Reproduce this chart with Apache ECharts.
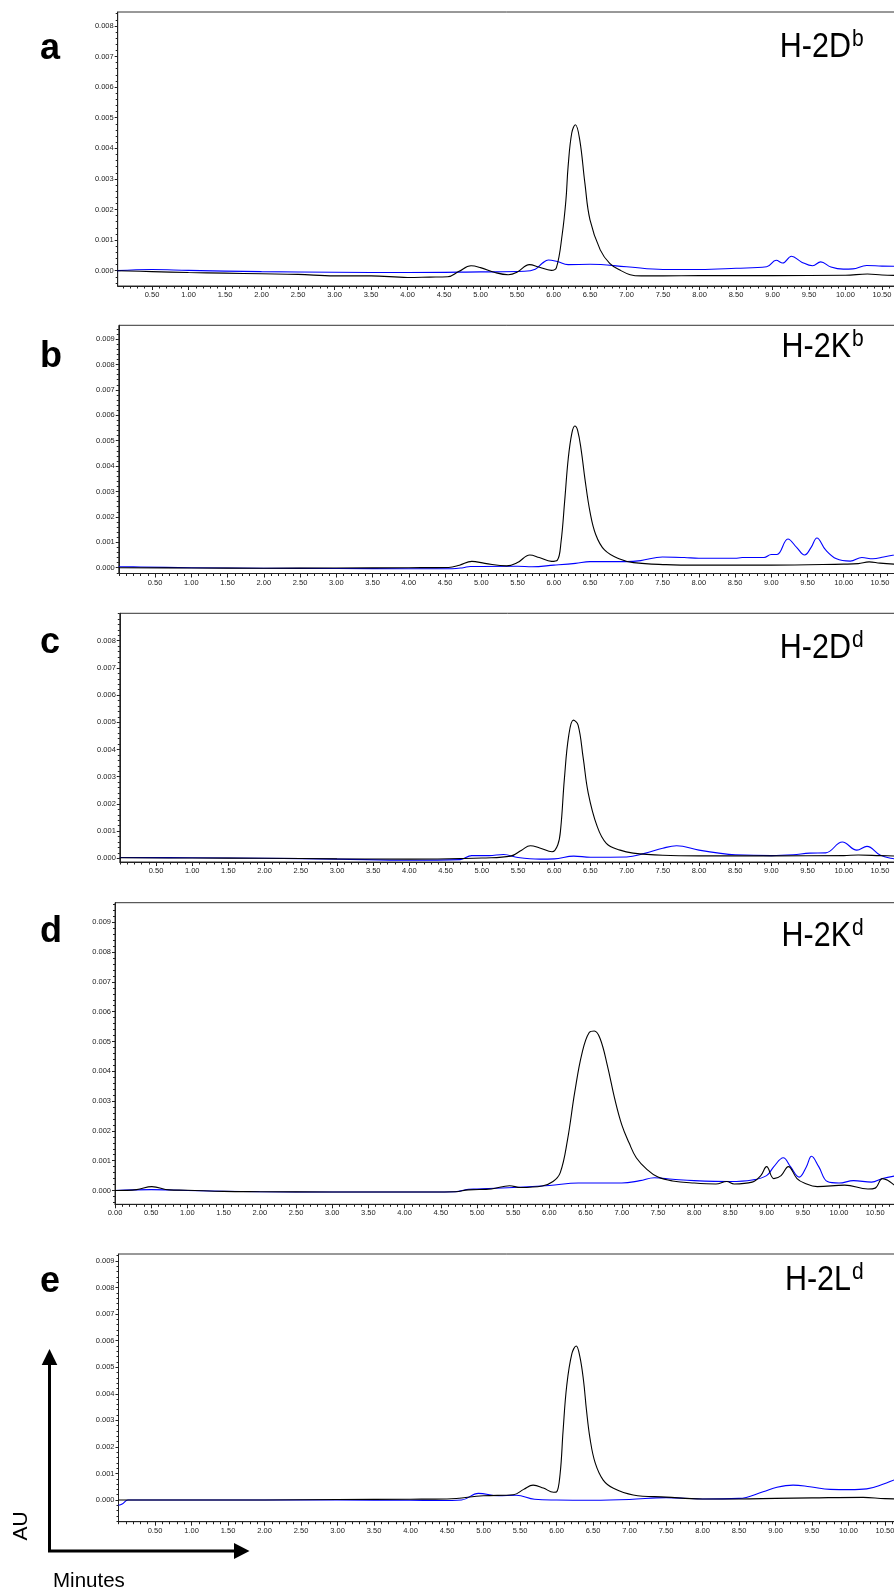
<!DOCTYPE html>
<html><head><meta charset="utf-8">
<script src="https://cdn.jsdelivr.net/npm/echarts@6/dist/echarts.min.js"></script>
<style>html,body{margin:0;padding:0;background:#fff}#c{width:894px;height:1591px}</style>
</head><body><div id="c"></div>
<script>
// ---- Data: [minutes, AU] ----
const aBlack = [[0,0],[0.5,-0.00003],[1,-0.00006],[1.5,-0.00008],[2,-0.0001],[2.5,-0.00012],[3,-0.00017],[3.5,-0.00017],[4,-0.00022],[4.3,-0.00021],[4.55,-0.0002],[4.7,-0.00003],[4.87,0.00016],[5.0,0.0001],[5.2,-0.00006],[5.38,-0.00013],[5.5,-0.00005],[5.67,0.0002],[5.8,0.00012],[5.97,0.00001],[6.04,0.0001],[6.12,0.0012],[6.17,0.0023],[6.2,0.0034],[6.25,0.0045],[6.3,0.00477],[6.36,0.00427],[6.43,0.00286],[6.5,0.00166],[6.64,0.00068],[6.77,0.00024],[6.91,0.00002],[7.05,-0.00013],[7.2,-0.00017],[7.5,-0.00017],[8,-0.00016],[9,-0.00016],[10,-0.00015],[10.3,-0.00011],[10.5,-0.00014],[10.8,-0.00016]];
const aBlue = [[0,0],[0.5,0.00004],[1,0.00001],[2,-0.00003],[3,-0.00005],[4,-0.00006],[5,-0.00004],[5.6,-0.00002],[5.75,0.00005],[5.85,0.00025],[5.93,0.00035],[6.05,0.0003],[6.2,0.0002],[6.5,0.00021],[7.0,0.00013],[7.5,0.00004],[8,0.00004],[8.5,0.00008],[8.92,0.00013],[9.05,0.00034],[9.14,0.00025],[9.26,0.00047],[9.4,0.00028],[9.55,0.00016],[9.66,0.00029],[9.8,0.00012],[9.97,0.00005],[10.1,0.00006],[10.29,0.00017],[10.5,0.00015],[10.8,0.00014]];

const bBlack = [[0,0],[1,-0.00001],[2,-0.00002],[3,-0.00001],[4,0],[4.55,0.00001],[4.7,0.0001],[4.87,0.00025],[5.05,0.00017],[5.35,0.00007],[5.5,0.0002],[5.67,0.0005],[5.8,0.0004],[5.97,0.00025],[6.05,0.0003],[6.1,0.001],[6.15,0.0026],[6.2,0.0043],[6.25,0.0053],[6.29,0.00558],[6.33,0.0054],[6.38,0.0046],[6.43,0.0035],[6.5,0.0022],[6.58,0.0013],[6.7,0.0007],[6.9,0.00035],[7.1,0.0002],[7.55,0.00012],[8,0.0001],[9,0.0001],[10,0.00014],[10.2,0.00016],[10.35,0.00023],[10.5,0.00018],[10.8,0.00012]];
const bBlue = [[0,0.00004],[0.3,0.00003],[1,0],[2,-0.00002],[3,-0.00003],[4,-0.00004],[4.6,-0.00004],[4.75,0],[4.85,0.00005],[5.5,0.00006],[5.7,0.00004],[6.0,0.0001],[6.3,0.00017],[6.5,0.00024],[7.0,0.00024],[7.2,0.00028],[7.5,0.00042],[7.8,0.0004],[8.0,0.00037],[8.5,0.00037],[8.6,0.0004],[8.9,0.0004],[9.0,0.00052],[9.08,0.00052],[9.23,0.00113],[9.35,0.0008],[9.46,0.0005],[9.55,0.0008],[9.63,0.00117],[9.75,0.0007],[9.9,0.00035],[10.09,0.00026],[10.25,0.0004],[10.4,0.00035],[10.55,0.00042],[10.8,0.00056]];

const cBlack = [[0,0.00002],[1,0.00001],[2,0],[3,-0.00002],[4,-0.00003],[4.7,-0.00001],[5.0,0.00001],[5.4,0.00008],[5.55,0.0003],[5.67,0.00046],[5.8,0.00038],[5.97,0.00024],[6.05,0.0005],[6.09,0.0011],[6.14,0.0029],[6.2,0.0045],[6.265,0.00508],[6.33,0.0049],[6.4,0.0037],[6.47,0.0024],[6.59,0.0012],[6.72,0.00055],[6.91,0.0003],[7.09,0.00019],[7.5,0.00011],[8,0.00009],[9,0.00009],[10,0.0001],[10.2,0.00012],[10.5,0.0001],[10.8,0.00008]];
const cBlue = [[0,0.00003],[1,0.00002],[2,0],[3,-0.00003],[4,-0.00007],[4.7,-0.00005],[4.86,0.0001],[5.1,0.0001],[5.3,0.00014],[5.5,0.00003],[5.8,-0.00003],[6.0,-0.00002],[6.27,0.00008],[6.5,0.00004],[7.0,0.00005],[7.25,0.00018],[7.5,0.00037],[7.69,0.00046],[8.0,0.0003],[8.3,0.00018],[8.5,0.00013],[9.0,0.0001],[9.3,0.00013],[9.53,0.00019],[9.75,0.0002],[9.98,0.0006],[10.18,0.0003],[10.32,0.00044],[10.5,0.00012],[10.65,0],[10.8,-0.00003]];

const dBlack = [[0,0],[0.3,0.00003],[0.51,0.00013],[0.75,0.00002],[1,0.00001],[1.5,-0.00003],[2,-0.00004],[3,-0.00005],[4,-0.00005],[4.7,-0.00004],[4.88,0.00002],[5.2,0.00005],[5.45,0.00016],[5.6,0.0001],[5.9,0.00015],[6.05,0.0003],[6.15,0.0006],[6.25,0.0017],[6.35,0.0033],[6.45,0.0046],[6.55,0.0053],[6.62,0.00535],[6.7,0.0051],[6.8,0.0042],[6.9,0.0031],[7.0,0.0022],[7.1,0.0016],[7.2,0.0011],[7.35,0.0007],[7.5,0.00045],[7.7,0.00032],[8.0,0.00025],[8.3,0.00022],[8.45,0.0003],[8.55,0.00022],[8.8,0.00028],[8.92,0.0005],[9.0,0.0008],[9.1,0.0004],[9.2,0.0005],[9.3,0.0008],[9.42,0.0004],[9.52,0.00025],[9.7,0.00013],[10.08,0.00018],[10.4,0.00005],[10.5,0.00008],[10.6,0.0004],[10.8,0.0001]];
const dBlue = [[0,0],[0.5,0.00003],[1,0],[2,-0.00004],[3,-0.00005],[4,-0.00005],[4.7,-0.00004],[4.88,0.00004],[5.0,0.00005],[5.5,0.0001],[6.0,0.00017],[6.4,0.00025],[7.0,0.00025],[7.25,0.00033],[7.45,0.00043],[7.7,0.00038],[8.0,0.00033],[8.5,0.0003],[8.8,0.00035],[9.0,0.0005],[9.1,0.0008],[9.23,0.0011],[9.33,0.0008],[9.45,0.00045],[9.55,0.0008],[9.62,0.00115],[9.72,0.0008],[9.84,0.0003],[10.0,0.00025],[10.2,0.00033],[10.45,0.00028],[10.6,0.0004],[10.8,0.0005]];

const eBlack = [[0,0],[1,0],[2,0],[3,0.00002],[4,0.00003],[4.5,0.00004],[5.0,0.00016],[5.41,0.0002],[5.55,0.0004],[5.68,0.00056],[5.82,0.00045],[5.96,0.00029],[6.0,0.0003],[6.05,0.001],[6.09,0.0026],[6.14,0.0043],[6.21,0.0055],[6.27,0.0058],[6.32,0.0054],[6.37,0.0045],[6.41,0.0034],[6.46,0.0023],[6.53,0.0014],[6.64,0.00075],[6.78,0.00044],[7.05,0.00019],[7.5,0.00011],[8,0.00004],[8.5,0.00004],[9,0.00006],[9.5,0.00008],[10.2,0.0001],[10.5,0.00005],[10.8,0.00004]];
const eBlue = [[0,-0.0002],[0.05,-0.00015],[0.13,0],[1,0],[2,0],[3,0],[4,-0.00001],[4.4,-0.00002],[4.7,0],[4.93,0.00025],[5.2,0.00016],[5.45,0.00018],[5.7,0.00003],[6.0,0],[6.5,-0.00001],[7.0,0.00002],[7.5,0.00009],[8.0,0.00004],[8.5,0.00006],[8.83,0.00031],[9.02,0.00048],[9.24,0.00056],[9.47,0.0005],[9.75,0.0004],[10.02,0.00039],[10.25,0.00042],[10.48,0.0006],[10.65,0.00078],[10.8,0.0009]];

const panelLetters = ['a','b','c','d','e'];
const panelTitles = ['H-2D','H-2K','H-2D','H-2K','H-2L'];
const panelSups = ['b','b','d','d','d'];
const blackSeries = [aBlack,bBlack,cBlack,dBlack,eBlack];
const blueSeries = [aBlue,bBlue,cBlue,dBlue,eBlue];
const yTicks8 = [0,0.001,0.002,0.003,0.004,0.005,0.006,0.007,0.008];
const yTicks9 = [0,0.001,0.002,0.003,0.004,0.005,0.006,0.007,0.008,0.009];
const yTickSets = [yTicks8,yTicks9,yTicks8,yTicks9,yTicks9];
const xTicks = [0,0.5,1,1.5,2,2.5,3,3.5,4,4.5,5,5.5,6,6.5,7,7.5,8,8.5,9,9.5,10,10.5];
const showZeroX = [false,false,false,true,false];

// ---- Layout (pixels) ----
const L = [
  {x0:115.5, ppm:73,   xmin:0.03, top:12,    bottom:286,    y0:270.7,  ppu:30.6,  capC:47.5},
  {x0:118.75,ppm:72.5, xmin:0,    top:325.3, bottom:573.5,  y0:567.7,  ppu:25.4,  capC:347},
  {x0:119.8, ppm:72.4, xmin:0,    top:613.3, bottom:862,    y0:858.3,  ppu:27.2,  capC:648},
  {x0:115,   ppm:72.4, xmin:0,    top:902.7, bottom:1204.3, y0:1190.5, ppu:29.8,  capC:936},
  {x0:118.5, ppm:73,   xmin:0,    top:1254,  bottom:1521.7, y0:1500,   ppu:26.56, capC:1280}
];
const letterY = [49.5,357.5,643.5,932.5,1282.5];
const XMAX = 10.8;
const FONT = '"Liberation Sans", Arial, Helvetica, sans-serif';

const grids=[], xAxes=[], yAxes=[], series=[], graphics=[];
L.forEach((p,i)=>{
  const ymax = (p.y0-p.top)/p.ppu*0.001;
  const ymin = -(p.bottom-p.y0)/p.ppu*0.001;
  grids.push({left:p.x0+p.xmin*p.ppm, top:p.top, width:(XMAX-p.xmin)*p.ppm, height:p.bottom-p.top,
    show:true, borderColor:'#333', borderWidth:1, containLabel:false, outerBoundsMode:'none'});
  const xMajor = xTicks.filter(v=>v>=p.xmin && (v>0 || showZeroX[i]));
  const xMinor=[]; for(let k=Math.ceil(p.xmin*10);k<=Math.floor(XMAX*10);k++) xMinor.push(k/10);
  const yMinor=[]; for(let k=Math.ceil(ymin*5000);k<=Math.floor(ymax*5000);k++) yMinor.push(k/5000);
  xAxes.push({type:'value', gridIndex:i, position:'bottom', min:p.xmin, max:XMAX,
    axisLine:{show:true,onZero:false,lineStyle:{color:'#222',width:1}},
    axisTick:{show:true,length:4,customValues:xMajor,lineStyle:{color:'#222'}},
    axisLabel:{show:true,customValues:xMajor,fontSize:7.5,color:'#222',margin:5,fontFamily:FONT,
      formatter:v=>v.toFixed(2)},
    splitLine:{show:false}});
  xAxes.push({type:'value', gridIndex:i, position:'bottom', min:p.xmin, max:XMAX,
    axisLine:{show:false,onZero:false},
    axisTick:{show:true,length:2.5,customValues:xMinor,lineStyle:{color:'#222'}},
    axisLabel:{show:false}, splitLine:{show:false}});
  yAxes.push({type:'value', gridIndex:i, position:'left', min:ymin, max:ymax,
    axisLine:{show:true,onZero:false,lineStyle:{color:'#222',width:1}},
    axisTick:{show:true,length:3,customValues:yTickSets[i],lineStyle:{color:'#222'}},
    axisLabel:{show:true,customValues:yTickSets[i],fontSize:7.5,color:'#222',margin:4,fontFamily:FONT,
      formatter:v=>v.toFixed(3)},
    splitLine:{show:false}});
  yAxes.push({type:'value', gridIndex:i, position:'left', min:ymin, max:ymax,
    axisLine:{show:false,onZero:false},
    axisTick:{show:true,length:2,customValues:yMinor,lineStyle:{color:'#222'}},
    axisLabel:{show:false}, splitLine:{show:false}});
  series.push({type:'line', xAxisIndex:2*i, yAxisIndex:2*i, data:blueSeries[i], showSymbol:false,
    smooth:0.4, lineStyle:{color:'#0000ff',width:1.1}, itemStyle:{color:'#0000ff'}, z:2});
  series.push({type:'line', xAxisIndex:2*i, yAxisIndex:2*i, data:blackSeries[i], showSymbol:false,
    smooth:0.4, lineStyle:{color:'#000',width:1.1}, itemStyle:{color:'#000'}, z:3});
  graphics.push({type:'text', x:40, y:letterY[i], style:{text:panelLetters[i], font:'bold 36px '+FONT,
    fill:'#000', textAlign:'left', textVerticalAlign:'middle', verticalAlign:'middle'}});
  graphics.push({type:'text', x:851, y:p.capC, scaleY:1.15, style:{text:panelTitles[i], font:'30.5px '+FONT,
    fill:'#000', textAlign:'right', textVerticalAlign:'middle', verticalAlign:'middle'}});
  graphics.push({type:'text', x:852, y:p.capC-7.9, scaleY:1.15, style:{text:panelSups[i], font:'21px '+FONT,
    fill:'#000', textAlign:'left', textVerticalAlign:'middle', verticalAlign:'middle'}});
});
// axis-direction key
graphics.push({type:'polyline', shape:{points:[[49.5,1364],[49.5,1551],[235,1551]]},
  style:{stroke:'#000', lineWidth:3, fill:null}});
graphics.push({type:'polygon', shape:{points:[[41.7,1365],[57.3,1365],[49.5,1349]]}, style:{fill:'#000'}});
graphics.push({type:'polygon', shape:{points:[[234,1543],[234,1559],[249.5,1551]]}, style:{fill:'#000'}});
graphics.push({type:'text', x:21.5, y:1526, rotation:Math.PI/2, style:{text:'AU', font:'21px '+FONT,
  fill:'#000', textAlign:'center', textVerticalAlign:'middle', verticalAlign:'middle'}});
graphics.push({type:'text', x:53, y:1581.5, style:{text:'Minutes', font:'20.5px '+FONT,
  fill:'#000', textAlign:'left', textVerticalAlign:'middle', verticalAlign:'middle'}});

const chart = echarts.init(document.getElementById('c'), null, {renderer:'canvas'});
chart.setOption({animation:false, backgroundColor:'#fff', grid:grids, xAxis:xAxes, yAxis:yAxes,
  series:series, graphic:graphics, tooltip:{show:false}, legend:{show:false}});
</script></body></html>
